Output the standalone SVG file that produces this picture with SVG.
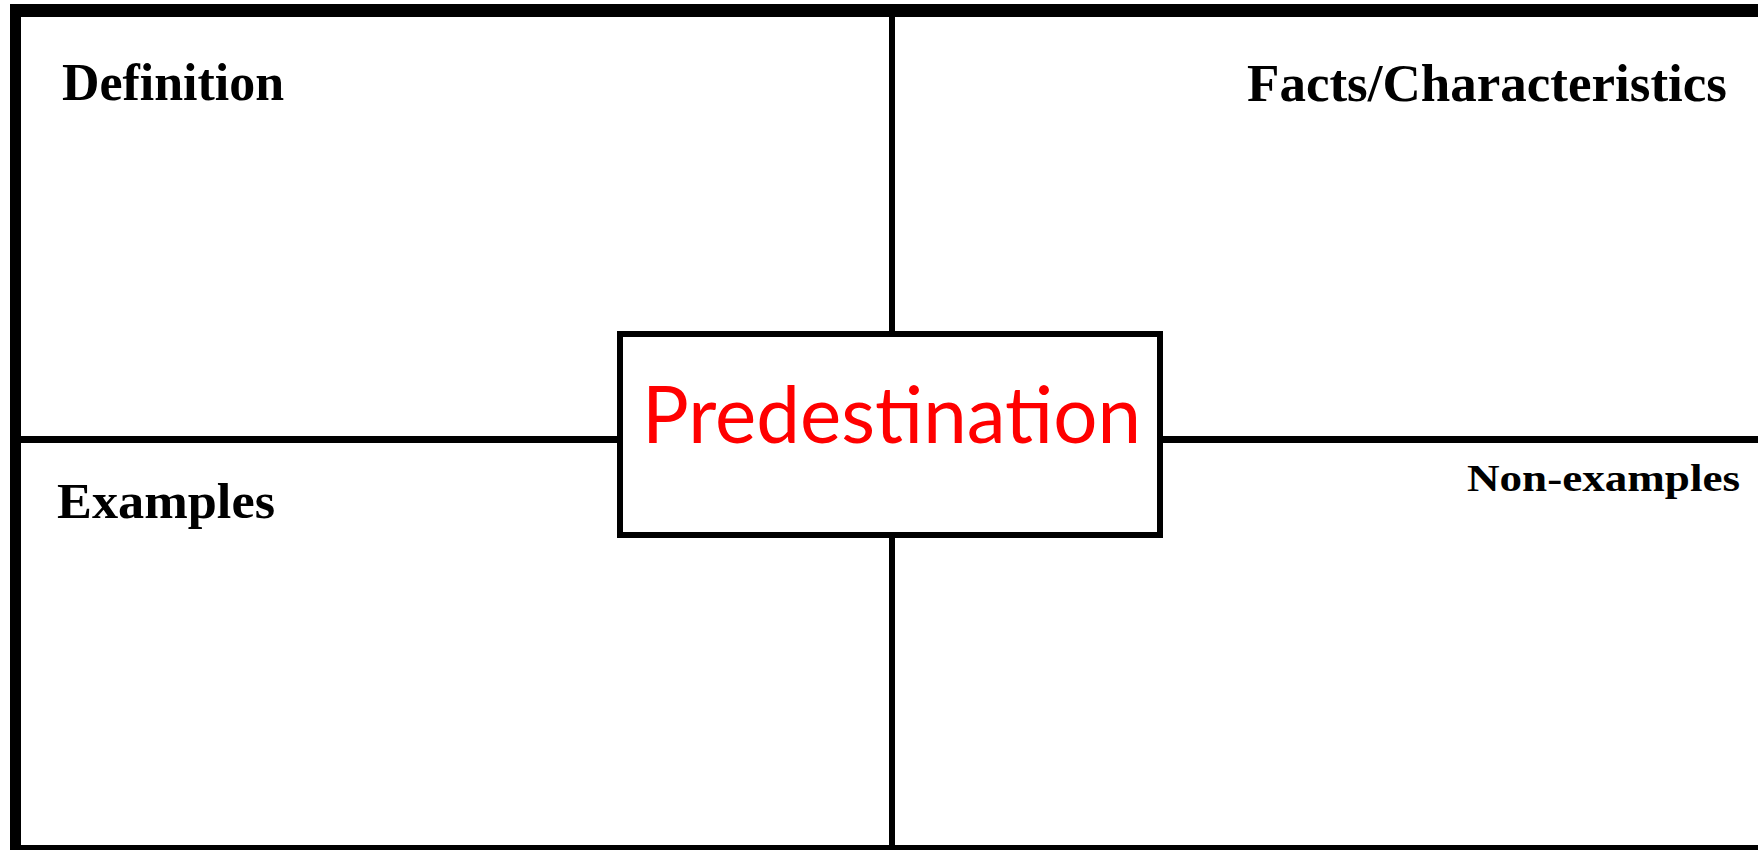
<svg xmlns="http://www.w3.org/2000/svg" width="1758" height="850" viewBox="0 0 1758 850">
<style>
.lbl{font-family:"Liberation Serif","Times New Roman",serif;font-weight:bold;fill:#000}
.ln{stroke:#000;fill:none}
</style>
<rect width="1758" height="850" fill="#fff"/>
<g id="frame">
<rect x="10" y="4" width="1748" height="13" fill="#000"/>
<rect x="10" y="4" width="11" height="846" fill="#000"/>
<rect x="10" y="845" width="1748" height="5" fill="#000"/>
</g>
<g id="connectors">
<line class="ln" x1="892" y1="17" x2="892" y2="334" stroke-width="6"/>
<line class="ln" x1="892" y1="535" x2="892" y2="845" stroke-width="6"/>
<line class="ln" x1="21" y1="439.5" x2="620" y2="439.5" stroke-width="7"/>
<line class="ln" x1="1160" y1="439.5" x2="1758" y2="439.5" stroke-width="7"/>
</g>
<g id="definition">
<text class="lbl" x="62" y="100" font-size="52" textLength="222" lengthAdjust="spacingAndGlyphs">Definition</text>
</g>
<g id="facts">
<text class="lbl" x="1247" y="101" font-size="53" textLength="480" lengthAdjust="spacingAndGlyphs">Facts/Characteristics</text>
</g>
<g id="examples">
<text class="lbl" x="57" y="518" font-size="51" textLength="218" lengthAdjust="spacingAndGlyphs">Examples</text>
</g>
<g id="nonexamples">
<text class="lbl" x="1467" y="491" font-size="38" textLength="273" lengthAdjust="spacingAndGlyphs">Non-examples</text>
</g>
<g id="center">
<rect x="620" y="334" width="540" height="201" fill="#fff" stroke="#000" stroke-width="6"/>
<text x="642" y="443" font-family="Lato,'Open Sans',sans-serif" font-size="79" fill="#ff0000" textLength="499" lengthAdjust="spacingAndGlyphs">Predestination</text>
</g>
</svg>
